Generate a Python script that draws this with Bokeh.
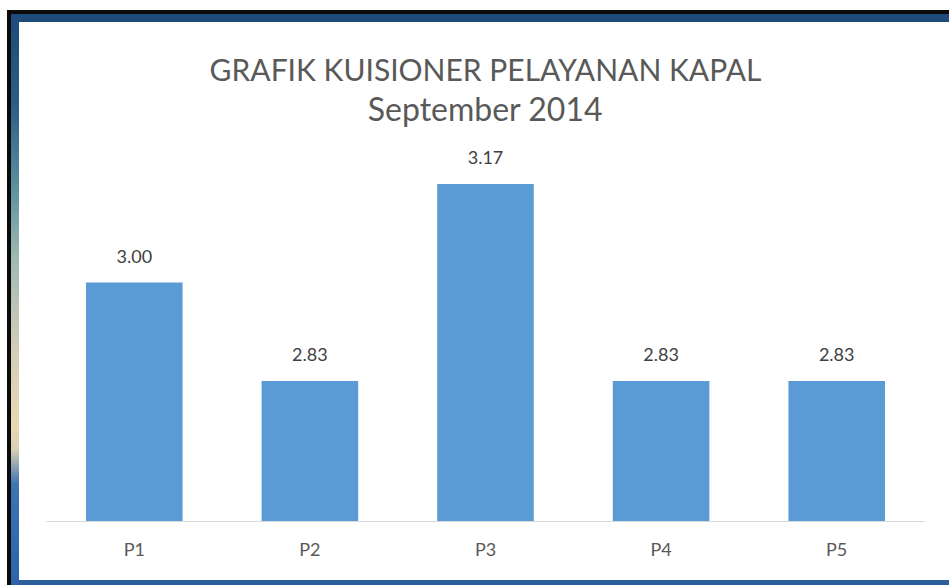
from bokeh.plotting import figure
from bokeh.models import ColumnDataSource, Range1d, FactorRange, InlineStyleSheet, GlobalInlineStyleSheet
from bokeh.core.properties import value
from bokeh.embed import file_html
from bokeh.resources import INLINE

categories = ["P1", "P2", "P3", "P4", "P5"]
scores = [3.00, 2.83, 3.17, 2.83, 2.83]
score_labels = ["3.00", "2.83", "3.17", "2.83", "2.83"]
title_line1 = "GRAFIK KUISIONER PELAYANAN KAPAL"
title_line2 = "September 2014"

FONT = "Lato"
Y_START, Y_END = 2.5875, 3.4487

src = ColumnDataSource(dict(cat=categories, score=scores, label=score_labels))

p = figure(
    x_range=FactorRange(*categories, range_padding=0),
    y_range=Range1d(Y_START, Y_END),
    width=930, height=558,
    output_backend="svg", toolbar_location=None,
    y_axis_location=None,
    min_border_left=27, min_border_right=25,
    min_border_top=0, min_border_bottom=59,
)
# window-frame look of the original screenshot
p.styles = {
    "margin-top": "22px",
    "margin-left": "19px",
    "position": "relative",
    "box-shadow": ("0 5px 0 0 #2d5f9e, 0 -8px 0 0 #1f4b7a, -8px -8px 0 0 #1f4b7a, "
                   "-8px 0 0 0 #5e8fa0, 0 -12px 0 0 #0b0b0b, -12px 0 0 0 #0b0b0b, "
                   "-12px -12px 0 0 #0b0b0b, -12px 5px 0 0 #0b0b0b"),
}
p.stylesheets = [
    GlobalInlineStyleSheet(css="html, body { margin: 0; padding: 0; overflow: hidden; background: white; }"),
    InlineStyleSheet(css=""":host::before {
  content: ""; position: absolute; left: -8px; top: 0px; width: 8px; height: calc(100% + 5px);
  background: linear-gradient(to bottom, #1f4b7a 0%, #2b5f86 15%, #5e93a0 30%, #9fbab2 42%, #d3cdb9 58%, #e8d9b2 72%, #d8cfb4 76%, #3e74b4 82%, #2c63aa 100%);
}"""),
]
p.background_fill_color = "white"
p.border_fill_color = "white"
p.outline_line_color = None
p.xgrid.visible = False
p.ygrid.visible = False

p.vbar(x="cat", top="score", bottom=Y_START, width=0.55, source=src,
       fill_color="#5b9bd5", line_color=None)

p.text(x="cat", y="score", text="label", source=src, y_offset=-26,
       text_align="center", text_baseline="middle",
       text_font=value(FONT), text_font_size="18px", text_color="#404040")

mid = len(categories) / 2
p.text(x=[mid], y=[Y_END - 0.0794], text=[title_line1],
       text_align="center", text_baseline="middle",
       text_font=value(FONT), text_font_size="30px", text_color="#595959")
p.text(x=[mid], y=[Y_END - 0.1484], text=[title_line2],
       text_align="center", text_baseline="middle",
       text_font=value(FONT), text_font_size="32px", text_color="#595959")

ax = p.xaxis[0]
ax.axis_line_color = "#d9d9d9"
ax.axis_line_width = 1
ax.major_tick_line_color = None
ax.minor_tick_line_color = None
ax.major_label_standoff = 10
ax.major_label_text_font = FONT
ax.major_label_text_font_size = "18px"
ax.major_label_text_color = "#595959"

open("out.html", "w").write(file_html(p, INLINE))
